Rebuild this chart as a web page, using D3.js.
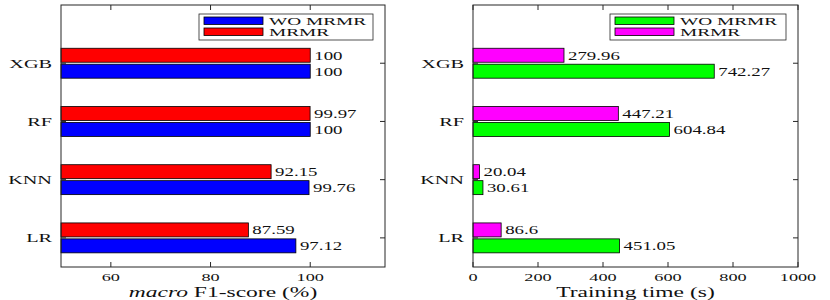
<!DOCTYPE html>
<html>
<head>
<meta charset="utf-8">
<script src="https://cdn.jsdelivr.net/npm/d3@7"></script>
<style>
  body { margin: 0; background: #fff; }
  text { font-family: "Liberation Serif", "DejaVu Serif", serif; fill: #111; }
</style>
</head>
<body>
<div class="chart"></div>
<script>
// data
const categories = ["LR", "KNN", "RF", "XGB"];
const f1WoMrmr = [97.12, 99.76, 100, 100];
const f1Mrmr = [87.59, 92.15, 99.97, 100];
const timeWoMrmr = [451.05, 30.61, 604.84, 742.27];
const timeMrmr = [86.6, 20.04, 447.21, 279.96];
const f1Ticks = [60, 80, 100];
const timeTicks = [0, 200, 400, 600, 800, 1000];
const seriesNames = ["WO MRMR", "MRMR"];

const width = 830;
const height = 300;

const svg = d3.select(".chart")
  .append("svg")
  .attr("width", width)
  .attr("height", height);

// text stretched sideways like the reference picture
function stext(g, x, y, str, anchor, size, sx) {
  return g.append("text")
    .attr("transform", `translate(${x},${y}) scale(${sx},1)`)
    .attr("text-anchor", anchor)
    .style("font-size", size + "px")
    .text(str);
}

function drawPanel(opt) {
  const g = svg.append("g");
  const x = d3.scaleLinear().domain(opt.domain).range([opt.x0, opt.x1]);
  const y = d3.scaleLinear().domain([0.5, 5]).range([267, 5]);
  const barH = y(0) - y(0.24);
  const off = 0.137;

  const rows = categories.map((c, i) => ({ c, i, wo: opt.wo[i], mr: opt.mr[i] }));

  // bars: WO below, MRMR above
  [["wo", -off, opt.colors[0]], ["mr", off, opt.colors[1]]].forEach(([key, o, col]) => {
    g.selectAll(".bar-" + key)
      .data(rows)
      .enter()
      .append("rect")
      .attr("x", x(opt.domain[0]))
      .attr("y", (d) => y(d.i + 1 + o) - barH / 2)
      .attr("width", (d) => x(d[key]) - x(opt.domain[0]))
      .attr("height", barH)
      .attr("fill", col)
      .attr("stroke", "#000")
      .attr("stroke-width", 0.8);

    rows.forEach((d) => {
      stext(g, x(d[key]) + 4, y(d.i + 1 + o) + 4.5, String(d[key]), "start", 13, 1.45);
    });
  });

  // frame
  g.append("rect")
    .attr("x", opt.x0).attr("y", 5)
    .attr("width", opt.x1 - opt.x0).attr("height", 262)
    .attr("fill", "none").attr("stroke", "#262626").attr("stroke-width", 1);

  // ticks inward
  opt.ticks.forEach((t) => {
    g.append("line").attr("x1", x(t)).attr("x2", x(t)).attr("y1", 267).attr("y2", 262)
      .attr("stroke", "#262626");
    g.append("line").attr("x1", x(t)).attr("x2", x(t)).attr("y1", 5).attr("y2", 10)
      .attr("stroke", "#262626");
    stext(g, x(t), 281, String(t), "middle", 11, 1.66);
  });
  categories.forEach((c, i) => {
    g.append("line").attr("x1", opt.x0).attr("x2", opt.x0 + 5).attr("y1", y(i + 1)).attr("y2", y(i + 1))
      .attr("stroke", "#262626");
    g.append("line").attr("x1", opt.x1).attr("x2", opt.x1 - 5).attr("y1", y(i + 1)).attr("y2", y(i + 1))
      .attr("stroke", "#262626");
    stext(g, opt.x0 - 9, y(i + 1) + 4.5, c, "end", 12.5, 1.62);
  });

  // axis label
  const mid = (opt.x0 + opt.x1) / 2;
  const lab = g.append("text")
    .attr("transform", `translate(${mid},296.5) scale(1.68,1)`)
    .attr("text-anchor", "middle")
    .style("font-size", "14px");
  opt.label.forEach(([s, it]) => {
    lab.append("tspan").style("font-style", it ? "italic" : "normal").text(s);
  });

  // legend
  const lg = g.append("g");
  lg.append("rect")
    .attr("x", opt.lx).attr("y", 14).attr("width", opt.lw).attr("height", 26)
    .attr("fill", "#fff").attr("stroke", "#262626").attr("stroke-width", 0.8);
  seriesNames.forEach((s, k) => {
    lg.append("rect")
      .attr("x", opt.lx + 5).attr("y", 17 + k * 11).attr("width", 59).attr("height", 7.5)
      .attr("fill", opt.colors[k]).attr("stroke", "#000").attr("stroke-width", 0.8);
    stext(lg, opt.lx + 70, 24.5 + k * 11, s, "start", 10.5, 1.84);
  });
}

drawPanel({
  x0: 61, x1: 385, domain: [50, 115], ticks: f1Ticks,
  wo: f1WoMrmr, mr: f1Mrmr, colors: ["#0000ff", "#ff0000"],
  label: [["macro", true], [" F1-score (%)", false]],
  lx: 199, lw: 174
});

drawPanel({
  x0: 473, x1: 798, domain: [0, 1000], ticks: timeTicks,
  wo: timeWoMrmr, mr: timeMrmr, colors: ["#00ff00", "#ff00ff"],
  label: [["Training time (s)", false]],
  lx: 610, lw: 176
});
</script>
</body>
</html>
